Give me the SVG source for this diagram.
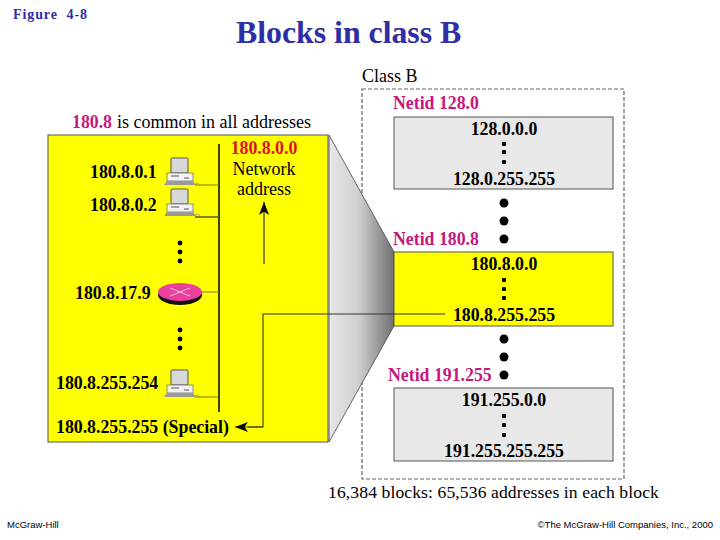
<svg xmlns="http://www.w3.org/2000/svg" width="720" height="540" viewBox="0 0 720 540">
<style>
text{font-family:"Liberation Serif","Times New Roman",serif;fill:#000}
.a{font-size:17.8px;font-weight:bold}
.m{text-anchor:middle}
.p{fill:#c4187c;font-weight:bold;font-size:17.8px}
.r{fill:#e0102c;font-weight:bold;font-size:17.8px}
.n{font-size:18px}
.w{stroke:#7a7a20;stroke-width:1;fill:none}
.f{font-family:"Liberation Sans",Arial,sans-serif;font-size:9.5px}
.h{fill:#2e2ea6;font-weight:bold}
.blk{stroke:#555;stroke-width:1}
</style>
<defs>
<linearGradient id="g" x1="0" x2="1" y1="0" y2="0"><stop offset="0" stop-color="#e6e6e6"/><stop offset="0.45" stop-color="#d0d0d0"/><stop offset="1" stop-color="#707070"/></linearGradient>
<marker id="ah" markerWidth="14" markerHeight="12" refX="13" refY="5" orient="auto" markerUnits="userSpaceOnUse"><path d="M0 0L13 5L0 10L3.5 5Z" fill="#000"/></marker>
<g id="pc">
<rect x="-9" y="-17" width="17" height="15" rx="1" fill="#d8d8d8" stroke="#555" stroke-width="1"/>
<rect x="-13" y="-2" width="26" height="8" fill="#f2f2f2" stroke="#666" stroke-width=".7"/>
<path d="M-9 1h8M4 3h5" stroke="#555" stroke-width="1"/>
<path d="M-16 10L-13 6H13L16 10Z" fill="#999"/>
<path d="M15 9q3-2 5 1" stroke="#888" fill="none" stroke-width=".7"/>
</g>
</defs>
<g id="header">
<text x="13" y="19" class="h" style="font-size:14px;letter-spacing:.9px" xml:space="preserve">Figure  4-8</text>
<text x="236" y="43" class="h" style="font-size:31.8px">Blocks in class B</text>
</g>
<g id="class-b-frame">
<rect x="362" y="89" width="262" height="390" fill="#fff" stroke="#666" stroke-width="1.2" stroke-dasharray="4 2"/>
<text x="362" y="82" class="n" style="-webkit-text-stroke:.3px #000">Class B</text>
</g>
<g id="zoom-wedge"><path d="M329 135L394 252V326L329 442Z" fill="url(#g)" stroke="#444" stroke-width=".8"/></g>
<g id="netid-128">
<text x="393" y="109" class="p">Netid 128.0</text>
<rect x="394" y="117" width="219" height="72" fill="#e8e8e8" class="blk"/>
<text x="504" y="135" class="a m">128.0.0.0</text>
<text x="504" y="184.500" class="a m">128.0.255.255</text>
<rect x="502" y="142" width="4" height="4" rx="1"/><rect x="502" y="150" width="4" height="4" rx="1"/><rect x="502" y="160" width="4" height="4" rx="1"/>
</g>
<g id="gap-dots-1"><circle cx="504" cy="203" r="4.5"/><circle cx="504" cy="221" r="4.5"/><circle cx="504" cy="239" r="4.5"/></g>
<g id="netid-180">
<text x="393" y="245" class="p">Netid 180.8</text>
<rect x="394" y="252" width="219" height="74" fill="#ff0" class="blk"/>
<text x="504" y="270" class="a m">180.8.0.0</text>
<text x="504" y="320.500" class="a m">180.8.255.255</text>
<rect x="502" y="278" width="4" height="4" rx="1"/><rect x="502" y="287" width="4" height="4" rx="1"/><rect x="502" y="296" width="4" height="4" rx="1"/>
</g>
<g id="gap-dots-2"><circle cx="504" cy="339" r="4.5"/><circle cx="504" cy="357" r="4.5"/><circle cx="504" cy="375" r="4.5"/></g>
<g id="netid-191">
<text x="388" y="381" class="p">Netid 191.255</text>
<rect x="394" y="388" width="219" height="73" fill="#e8e8e8" class="blk"/>
<text x="504" y="406" class="a m">191.255.0.0</text>
<text x="504" y="456.500" class="a m">191.255.255.255</text>
<rect x="502" y="414" width="4" height="4" rx="1"/><rect x="502" y="423" width="4" height="4" rx="1"/><rect x="502" y="433" width="4" height="4" rx="1"/>
</g>
<text x="493.500" y="498" class="m" style="font-size:17.6px;letter-spacing:.1px">16,384 blocks: 65,536 addresses in each block</text>
<g id="network">
<rect x="48" y="135" width="280" height="307" fill="#ff0" stroke="#555" stroke-width="1"/>
<text x="72" y="128" class="p">180.8</text>
<text x="117" y="128" class="n">is common in all addresses</text>
</g>
<g id="connectors">
<path d="M219 144V412" stroke="#111" stroke-width="1.6" fill="none"/>
<path class="w" d="M195 185H219"/>
<path d="M195 217H219" stroke="#666600" stroke-width="1.6" fill="none"/>
<path class="w" d="M201 292H219"/>
<path class="w" d="M195 397H219"/>
<path d="M264 264V202" stroke="#333" stroke-width="1.2" fill="none" marker-end="url(#ah)"/>
<path d="M445 314H263V427H235" stroke="#333" stroke-width="1.1" fill="none" marker-end="url(#ah)"/>
<path d="M263 427H248" stroke="#666600" stroke-width="1.6" fill="none"/>
</g>
<g id="host-1"><text x="90" y="177.500" class="a">180.8.0.1</text><use href="#pc" x="180" y="175"/></g>
<g id="host-2"><text x="90" y="210.500" class="a">180.8.0.2</text><use href="#pc" x="180" y="206"/></g>
<g id="dots-upper"><circle cx="180" cy="243" r="2.4"/><circle cx="180" cy="252" r="2.4"/><circle cx="180" cy="261" r="2.4"/></g>
<g id="router">
<text x="75" y="299" class="a">180.8.17.9</text>
<ellipse cx="180" cy="295" rx="22" ry="10" fill="#111"/>
<ellipse cx="180" cy="292" rx="22" ry="9" fill="#e8409c"/>
<path d="M170 288L190 296M170 296L190 288" stroke="#f6c0dc" stroke-width="1"/>
</g>
<g id="dots-lower"><circle cx="180" cy="330" r="2.4"/><circle cx="180" cy="339" r="2.4"/><circle cx="180" cy="348" r="2.4"/></g>
<g id="host-254"><text x="56" y="389" class="a">180.8.255.254</text><use href="#pc" x="180" y="387"/></g>
<g id="special"><text x="56" y="433" class="a">180.8.255.255 (Special)</text></g>
<g id="network-address">
<text x="264" y="154" class="r m">180.8.0.0</text>
<text x="264" y="175" class="n m">Network</text>
<text x="264" y="195" class="n m">address</text>
</g>
<g id="footer">
<text x="7" y="528" class="f">McGraw-Hill</text>
<text x="713" y="528" class="f" text-anchor="end">©The McGraw-Hill Companies, Inc., 2000</text>
</g>
</svg>
